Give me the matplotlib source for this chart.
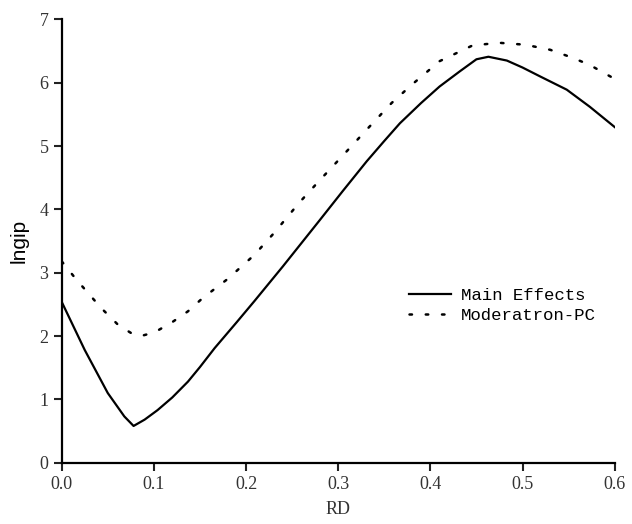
import matplotlib
matplotlib.use("Agg")
import matplotlib.pyplot as plt

# Main Effects (solid)
main_x = [0.0, 0.025, 0.05, 0.068, 0.078, 0.09, 0.104, 0.12, 0.137, 0.15, 0.166,
          0.19, 0.209, 0.24, 0.28, 0.305, 0.331, 0.35, 0.367, 0.39, 0.41, 0.432,
          0.45, 0.463, 0.483, 0.50, 0.519, 0.548, 0.573, 0.60]
main_y = [2.54, 1.78, 1.10, 0.73, 0.58, 0.68, 0.83, 1.03, 1.28, 1.51, 1.81,
          2.22, 2.55, 3.10, 3.83, 4.29, 4.76, 5.08, 5.36, 5.68, 5.94, 6.18,
          6.37, 6.41, 6.35, 6.24, 6.10, 5.89, 5.62, 5.30]

# Moderatron-PC (dotted)
mod_x = [0.0, 0.016, 0.043, 0.061, 0.075, 0.086, 0.101, 0.12, 0.137, 0.153, 0.18,
         0.209, 0.23, 0.258, 0.28, 0.305, 0.331, 0.358, 0.38, 0.41, 0.446, 0.475,
         0.503, 0.53, 0.555, 0.573, 0.60]
mod_y = [3.18, 2.89, 2.44, 2.18, 2.05, 2.00, 2.06, 2.22, 2.39, 2.60, 2.90,
         3.28, 3.62, 4.11, 4.46, 4.85, 5.26, 5.68, 5.97, 6.34, 6.59, 6.63,
         6.60, 6.52, 6.39, 6.28, 6.06]

xticks = [0.0, 0.1, 0.2, 0.3, 0.4, 0.5, 0.6]
yticks = [0, 1, 2, 3, 4, 5, 6, 7]

fig = plt.figure(figsize=(6.32, 5.24), dpi=100)
ax = fig.add_axes([0.0976, 0.117, 0.875, 0.846])

ax.plot(main_x, main_y, color="black", lw=1.6, label="Main Effects")
ax.plot(mod_x, mod_y, color="black", lw=1.8, linestyle=(0, (1, 5.5)),
        dash_capstyle="round", label="Moderatron-PC")

ax.set_xlim(0, 0.6)
ax.set_ylim(0, 7)
ax.set_xticks(xticks)
ax.set_yticks(yticks)
ax.set_xticklabels(["%.1f" % v for v in xticks], family="Liberation Serif", fontsize=13)
ax.set_yticklabels([str(v) for v in yticks], family="Liberation Serif", fontsize=13)
for s in ["top", "right"]:
    ax.spines[s].set_visible(False)
for s in ["left", "bottom"]:
    ax.spines[s].set_linewidth(1.6)
ax.tick_params(direction="out", length=6, width=1.5, color="#222222", labelcolor="#333333")

ax.set_xlabel("RD", family="Liberation Serif", fontsize=13, color="#333333", labelpad=6)
ax.set_ylabel("lngip", family="Liberation Sans", fontsize=15, labelpad=8)

ax.legend(loc="upper left", bbox_to_anchor=(0.6, 0.43), frameon=False,
          prop={"family": "Liberation Mono", "size": 12.5},
          handlelength=2.4, handletextpad=0.6, labelspacing=0.3)

fig.savefig("out.png", dpi=100)
